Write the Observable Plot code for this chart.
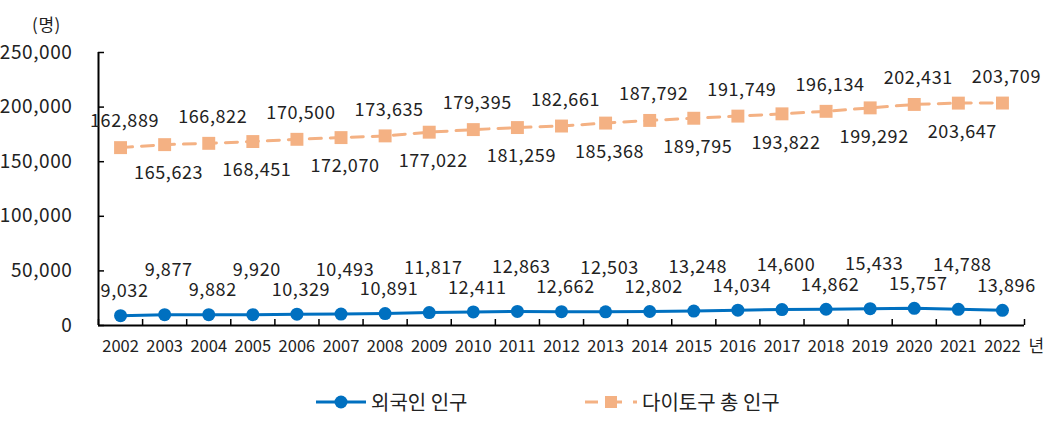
<!DOCTYPE html>
<html><head><meta charset="utf-8">
<script src="https://cdn.jsdelivr.net/npm/d3@7"></script>
<script src="https://cdn.jsdelivr.net/npm/@observablehq/plot@0.6"></script>
<style>
body{margin:0;background:#fff;font-family:"Noto Sans CJK KR","Noto Sans",sans-serif;color:#222;}
#legend{position:relative;width:1046px;height:43px;}
.item{position:absolute;top:0;height:43px;display:flex;align-items:center;font-size:20px;}
.item svg{margin-right:4px;}
</style></head><body>
<div id="chart"></div>
<div id="legend"></div>
<script>
const years = [2002,2003,2004,2005,2006,2007,2008,2009,2010,2011,2012,2013,2014,2015,2016,2017,2018,2019,2020,2021,2022];
const foreign = [9032,9877,9882,9920,10329,10493,10891,11817,12411,12863,12662,12503,12802,13248,14034,14600,14862,15433,15757,14788,13896];
const total = [162889,165623,166822,168451,170500,172070,173635,177022,179395,181259,182661,185368,187792,189795,191749,193822,196134,199292,202431,203647,203709];
const foreignLabelRow = ["low","high","low","high","low","high","low","high","low","high","low","high","low","high","low","high","low","high","low","high","low"];
const totalLabelSide = ["above","below","above","below","above","below","above","below","above","below","above","below","above","below","above","below","above","below","above","below","above"];
const yTicks = [0,50000,100000,150000,200000,250000];
const seriesNames = ["외국인 인구","다이토구 총 인구"];
const unitLabel = "(명)";
const yearUnit = "년";

const fmt = d3.format(",");
const foreignData = years.map((year,i)=>({year, value: foreign[i], row: foreignLabelRow[i]}));
const totalData = years.map((year,i)=>({year, value: total[i], side: totalLabelSide[i]}));
const boundaries = [years[0]-0.5, ...years.map(y=>y+0.5)];

const blue = "#0070c0", orange = "#f4b183";
const labelFont = {fontSize: 18, fill: "#222"};

const chart = Plot.plot({
  width: 1046, height: 380,
  marginLeft: 98, marginRight: 22, marginTop: 52, marginBottom: 55,
  style: {fontFamily: '"Noto Sans CJK KR","Noto Sans",sans-serif', color: "#222", background: "#fff", letterSpacing: "0.6px"},
  x: {type: "linear", domain: [years[0]-0.5, years[years.length-1]+0.5], label: null},
  y: {domain: [0, 250000], label: null},
  marks: [
    Plot.axisY({ticks: yTicks, tickSize: -6, tickPadding: 32, tickFormat: fmt, fontSize: 19, stroke: "#000", strokeWidth: 1.5}),
    Plot.axisX({ticks: boundaries, tickSize: -6, tickFormat: () => "", stroke: "#000", strokeWidth: 1.5}),
    Plot.axisX({ticks: years, tickSize: 0, tickPadding: 15, tickFormat: d => String(d), fontSize: 16.5, className: "xlabels"}),
    Plot.ruleX([years[0]-0.5], {stroke: "#000", strokeWidth: 2}),
    Plot.ruleY([0], {stroke: "#000", strokeWidth: 2}),
    Plot.line(totalData, {x: "year", y: "value", stroke: orange, strokeWidth: 3, strokeDasharray: "12,9"}),
    Plot.dot(totalData, {x: "year", y: "value", symbol: "square", r: 7.3, fill: orange}),
    Plot.line(foreignData, {x: "year", y: "value", stroke: blue, strokeWidth: 3}),
    Plot.dot(foreignData, {x: "year", y: "value", r: 6.5, fill: blue}),
    Plot.text(totalData.filter(d=>d.side==="above"), {x: "year", y: "value", text: d=>fmt(d.value), dy: -26, dx: 4, ...labelFont}),
    Plot.text(totalData.filter(d=>d.side==="below"), {x: "year", y: "value", text: d=>fmt(d.value), dy: 29, dx: 4, ...labelFont}),
    Plot.text(foreignData.filter(d=>d.row==="low"), {x: "year", y: "value", text: d=>fmt(d.value), dy: -24, dx: 4, ...labelFont}),
    Plot.text(foreignData.filter(d=>d.row==="high"), {x: "year", y: "value", text: d=>fmt(d.value), dy: -44, dx: 4, ...labelFont}),
    Plot.text([unitLabel], {frameAnchor: "top-left", textAnchor: "middle", dx: -52, dy: -34, fontSize: 17, fill: "#222"}),
    Plot.text([yearUnit], {frameAnchor: "bottom-right", textAnchor: "middle", dx: 12, dy: 26, fontSize: 17, fill: "#222"})
  ]
});
d3.select(chart).selectAll(".xlabels text").style("letter-spacing", "0px");
document.getElementById("chart").appendChild(chart);

const legend = document.getElementById("legend");
legend.innerHTML = `
<div class="item" style="left:315px"><svg width="52" height="16"><line x1="1" y1="8" x2="51" y2="8" stroke="${blue}" stroke-width="3"/><circle cx="26" cy="8" r="6.5" fill="${blue}"/></svg><span>${seriesNames[0]}</span></div>
<div class="item" style="left:584px"><svg width="54" height="16"><line x1="1" y1="8" x2="53" y2="8" stroke="${orange}" stroke-width="3" stroke-dasharray="13,11"/><rect x="21" y="2" width="12" height="12" fill="${orange}"/></svg><span>${seriesNames[1]}</span></div>`;
</script>
</body></html>
